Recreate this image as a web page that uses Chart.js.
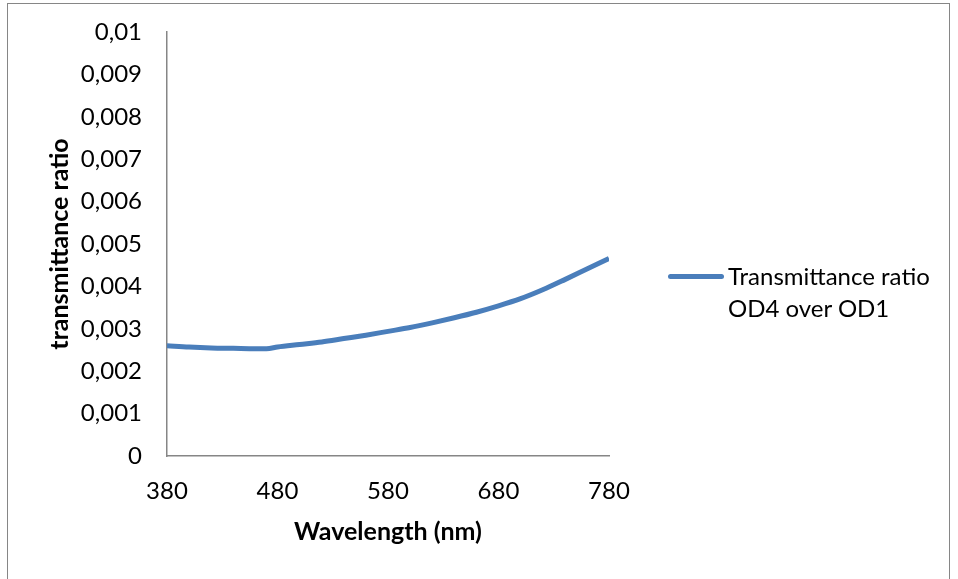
<!DOCTYPE html>
<html>
<head>
<meta charset="utf-8">
<script src="https://cdn.jsdelivr.net/npm/chart.js@4/dist/chart.umd.min.js"></script>
<style>
  html, body { margin: 0; padding: 0; background: #fff; }
  #wrap { position: relative; width: 958px; height: 579px; overflow: hidden; }
  #frame { position: absolute; left: 7px; top: 3px; width: 943px; height: 590px; border: 1px solid #868686; box-sizing: border-box; pointer-events: none; }
  #chart { position: absolute; left: 0; top: 0; }
  #legend { position: absolute; left: 668px; top: 260px; font-family: Lato, "Open Sans", sans-serif; font-size: 24px; line-height: 32px; color: #000; }
  #legend .swatch { position: absolute; left: 0; top: 14px; width: 56px; height: 5px; border-radius: 3px; background: #4a7ebb; }
  #legend .text { margin-left: 60px; white-space: nowrap; }
</style>
</head>
<body>
<div id="wrap">
  <canvas id="chart" width="958" height="579"></canvas>
  <div id="frame"></div>
  <div id="legend"><div class="swatch"></div><div class="text">Transmittance ratio<br>OD4 over OD1</div></div>
</div>
<script>
// Data
const wavelengths = [380, 400, 420, 440, 460, 470, 480, 500, 520, 540, 560, 580, 600, 620, 640, 660, 680, 700, 720, 740, 760, 780];
const ratios = [0.00260, 0.00257, 0.00255, 0.00254, 0.00253, 0.00253, 0.00257, 0.00263, 0.00269, 0.00277, 0.00285, 0.00294, 0.00303, 0.00314, 0.00326, 0.00339, 0.00354, 0.00371, 0.00392, 0.00416, 0.00441, 0.00466];
const xTicks = [380, 480, 580, 680, 780];
const yTicks = [0, 0.001, 0.002, 0.003, 0.004, 0.005, 0.006, 0.007, 0.008, 0.009, 0.01];

const seriesLabel = 'Transmittance ratio OD4 over OD1';
const lineColor = '#4a7ebb';
const axisColor = '#868686';
const fontFamily = 'Lato, "Open Sans", sans-serif';

function commaNum(v) {
  if (Math.abs(v) < 1e-12) return '0';
  return parseFloat(v.toFixed(4)).toString().replace('.', ',');
}

const ctx = document.getElementById('chart').getContext('2d');
new Chart(ctx, {
  type: 'line',
  data: {
    datasets: [{
      label: seriesLabel,
      data: wavelengths.map((w, i) => ({ x: w, y: ratios[i] })),
      borderColor: lineColor,
      borderWidth: 5,
      pointRadius: 0,
      cubicInterpolationMode: 'monotone',
      fill: false
    }]
  },
  options: {
    responsive: false,
    animation: false,
    layout: { padding: { left: 0, right: 349, top: 32, bottom: 0 } },
    plugins: { legend: { display: false }, tooltip: { enabled: false } },
    scales: {
      x: {
        type: 'linear',
        min: xTicks[0],
        max: xTicks[xTicks.length - 1],
        afterBuildTicks: s => { s.ticks = xTicks.map(v => ({ value: v })); },
        afterFit: s => { s.height = 123; s.paddingLeft = 0; s.paddingRight = 0; },
        grid: { display: false, drawTicks: false },
        border: { color: axisColor, width: 1.5 },
        ticks: { color: '#000', font: { family: fontFamily, size: 24 }, padding: 21, maxRotation: 0 },
        title: { display: true, text: 'Wavelength (nm)', color: '#000', font: { family: fontFamily, size: 25, weight: 'bold' }, padding: { top: 4, bottom: 32 } }
      },
      y: {
        min: yTicks[0],
        max: yTicks[yTicks.length - 1],
        afterBuildTicks: s => { s.ticks = yTicks.map(v => ({ value: v })); },
        afterFit: s => { s.width = 167; s.paddingTop = 0; s.paddingBottom = 0; },
        grid: { display: false, drawTicks: false },
        border: { color: axisColor, width: 1.5 },
        ticks: { color: '#000', font: { family: fontFamily, size: 24 }, padding: 25, callback: v => commaNum(v) },
        title: { display: true, text: 'transmittance ratio', color: '#000', font: { family: fontFamily, size: 25, weight: 'bold' }, padding: { top: 45, bottom: 4 } }
      }
    }
  }
});
</script>
</body>
</html>
